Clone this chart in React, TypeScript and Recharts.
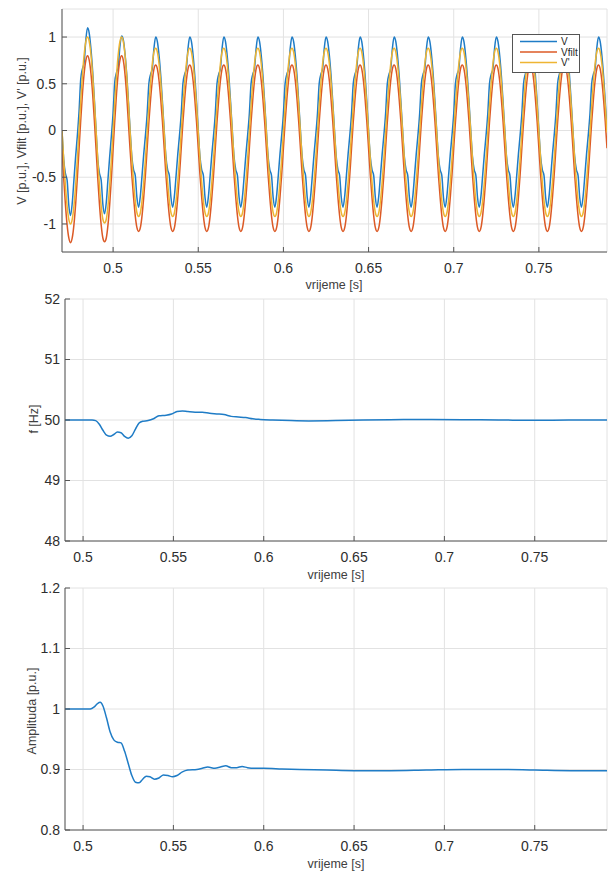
import { LineChart, Line, XAxis, YAxis, CartesianGrid } from 'recharts'

// sampling of the waveforms in the top panel (1 ms steps from 0.47 s)
const T0 = 0.47
const DT = 0.001

// V [p.u.]
const vWave = [
  0.0, -0.31, -0.46, -0.53, -0.8, -0.91, -0.78, -0.53, -0.28, -0.06,
  0.2, 0.55, 0.66, 0.73, 0.97, 1.1, 1.04, 0.87, 0.63, 0.33, 0.0, -0.31, -0.46, -0.53, -0.79, -0.89, -0.77, -0.52, -0.28, -0.06,
  0.19, 0.52, 0.62, 0.68, 0.9, 1.01, 0.97, 0.82, 0.6, 0.31, 0.0, -0.28, -0.42, -0.48, -0.72, -0.82, -0.7, -0.48, -0.25, -0.05,
  0.18, 0.5, 0.6, 0.66, 0.88, 1.0, 0.95, 0.8, 0.58, 0.3, 0.0, -0.28, -0.42, -0.48, -0.72, -0.82, -0.7, -0.48, -0.25, -0.05,
  0.18, 0.5, 0.6, 0.66, 0.88, 1.0, 0.95, 0.8, 0.58, 0.3, 0.0, -0.28, -0.42, -0.48, -0.72, -0.82, -0.7, -0.48, -0.25, -0.05,
  0.18, 0.5, 0.6, 0.66, 0.88, 1.0, 0.95, 0.8, 0.58, 0.3, 0.0, -0.28, -0.42, -0.48, -0.72, -0.82, -0.7, -0.48, -0.25, -0.05,
  0.18, 0.5, 0.6, 0.66, 0.88, 1.0, 0.95, 0.8, 0.58, 0.3, 0.0, -0.28, -0.42, -0.48, -0.72, -0.82, -0.7, -0.48, -0.25, -0.05,
  0.18, 0.5, 0.6, 0.66, 0.88, 1.0, 0.95, 0.8, 0.58, 0.3, 0.0, -0.28, -0.42, -0.48, -0.72, -0.82, -0.7, -0.48, -0.25, -0.05,
  0.18, 0.5, 0.6, 0.66, 0.88, 1.0, 0.95, 0.8, 0.58, 0.3, 0.0, -0.28, -0.42, -0.48, -0.72, -0.82, -0.7, -0.48, -0.25, -0.05,
  0.18, 0.5, 0.6, 0.66, 0.88, 1.0, 0.95, 0.8, 0.58, 0.3, 0.0, -0.28, -0.42, -0.48, -0.72, -0.82, -0.7, -0.48, -0.25, -0.05,
  0.18, 0.5, 0.6, 0.66, 0.88, 1.0, 0.95, 0.8, 0.58, 0.3, 0.0, -0.28, -0.42, -0.48, -0.72, -0.82, -0.7, -0.48, -0.25, -0.05,
  0.18, 0.5, 0.6, 0.66, 0.88, 1.0, 0.95, 0.8, 0.58, 0.3, 0.0, -0.28, -0.42, -0.48, -0.72, -0.82, -0.7, -0.48, -0.25, -0.05,
  0.18, 0.5, 0.6, 0.66, 0.88, 1.0, 0.95, 0.8, 0.58, 0.3, 0.0, -0.28, -0.42, -0.48, -0.72, -0.82, -0.7, -0.48, -0.25, -0.05,
  0.18, 0.5, 0.6, 0.66, 0.88, 1.0, 0.95, 0.8, 0.58, 0.3, 0.0, -0.28, -0.42, -0.48, -0.72, -0.82, -0.7, -0.48, -0.25, -0.05,
  0.18, 0.5, 0.6, 0.66, 0.88, 1.0, 0.95, 0.8, 0.58, 0.3, 0.0, -0.28, -0.42, -0.48, -0.72, -0.82, -0.7, -0.48, -0.25, -0.05,
  0.18, 0.5, 0.6, 0.66, 0.88, 1.0, 0.95, 0.8, 0.58, 0.3, 0.0, -0.28, -0.42, -0.48, -0.72, -0.82, -0.7, -0.48, -0.25, -0.05,
  0.18, 0.5, 0.6, 0.66, 0.88, 1.0, 0.95, 0.8, 0.58, 0.3, 0.0,
]

// Vfilt [p.u.]
const vfWave = [
  -0.2, -0.51, -0.79, -1.01, -1.15, -1.2, -1.15, -1.01, -0.79, -0.51,
  -0.2, 0.11, 0.39, 0.61, 0.75, 0.8, 0.75, 0.61, 0.39, 0.11, -0.2, -0.51, -0.79, -1.01, -1.15, -1.19, -1.15, -1.01, -0.79, -0.51,
  -0.2, 0.11, 0.39, 0.61, 0.75, 0.8, 0.75, 0.6, 0.37, 0.08, -0.21, -0.48, -0.71, -0.91, -1.04, -1.08, -1.04, -0.91, -0.71, -0.47,
  -0.19, 0.09, 0.33, 0.53, 0.66, 0.7, 0.66, 0.53, 0.33, 0.09, -0.19, -0.47, -0.71, -0.91, -1.04, -1.08, -1.04, -0.91, -0.71, -0.47,
  -0.19, 0.09, 0.33, 0.53, 0.66, 0.7, 0.66, 0.53, 0.33, 0.09, -0.19, -0.47, -0.71, -0.91, -1.04, -1.08, -1.04, -0.91, -0.71, -0.47,
  -0.19, 0.09, 0.33, 0.53, 0.66, 0.7, 0.66, 0.53, 0.33, 0.09, -0.19, -0.47, -0.71, -0.91, -1.04, -1.08, -1.04, -0.91, -0.71, -0.47,
  -0.19, 0.09, 0.33, 0.53, 0.66, 0.7, 0.66, 0.53, 0.33, 0.09, -0.19, -0.47, -0.71, -0.91, -1.04, -1.08, -1.04, -0.91, -0.71, -0.47,
  -0.19, 0.09, 0.33, 0.53, 0.66, 0.7, 0.66, 0.53, 0.33, 0.09, -0.19, -0.47, -0.71, -0.91, -1.04, -1.08, -1.04, -0.91, -0.71, -0.47,
  -0.19, 0.09, 0.33, 0.53, 0.66, 0.7, 0.66, 0.53, 0.33, 0.09, -0.19, -0.47, -0.71, -0.91, -1.04, -1.08, -1.04, -0.91, -0.71, -0.47,
  -0.19, 0.09, 0.33, 0.53, 0.66, 0.7, 0.66, 0.53, 0.33, 0.09, -0.19, -0.47, -0.71, -0.91, -1.04, -1.08, -1.04, -0.91, -0.71, -0.47,
  -0.19, 0.09, 0.33, 0.53, 0.66, 0.7, 0.66, 0.53, 0.33, 0.09, -0.19, -0.47, -0.71, -0.91, -1.04, -1.08, -1.04, -0.91, -0.71, -0.47,
  -0.19, 0.09, 0.33, 0.53, 0.66, 0.7, 0.66, 0.53, 0.33, 0.09, -0.19, -0.47, -0.71, -0.91, -1.04, -1.08, -1.04, -0.91, -0.71, -0.47,
  -0.19, 0.09, 0.33, 0.53, 0.66, 0.7, 0.66, 0.53, 0.33, 0.09, -0.19, -0.47, -0.71, -0.91, -1.04, -1.08, -1.04, -0.91, -0.71, -0.47,
  -0.19, 0.09, 0.33, 0.53, 0.66, 0.7, 0.66, 0.53, 0.33, 0.09, -0.19, -0.47, -0.71, -0.91, -1.04, -1.08, -1.04, -0.91, -0.71, -0.47,
  -0.19, 0.09, 0.33, 0.53, 0.66, 0.7, 0.66, 0.53, 0.33, 0.09, -0.19, -0.47, -0.71, -0.91, -1.04, -1.08, -1.04, -0.91, -0.71, -0.47,
  -0.19, 0.09, 0.33, 0.53, 0.66, 0.7, 0.66, 0.53, 0.33, 0.09, -0.19, -0.47, -0.71, -0.91, -1.04, -1.08, -1.04, -0.91, -0.71, -0.47,
  -0.19, 0.09, 0.33, 0.53, 0.66, 0.7, 0.66, 0.53, 0.33, 0.09, -0.19,
]

// V' [p.u.]
const vpWave = [
  0.0, -0.31, -0.59, -0.81, -0.95, -1.0, -0.95, -0.81, -0.59, -0.31,
  0.0, 0.31, 0.59, 0.81, 0.95, 1.0, 0.95, 0.81, 0.59, 0.31, 0.0, -0.31, -0.59, -0.81, -0.95, -0.99, -0.95, -0.81, -0.59, -0.31,
  0.0, 0.31, 0.59, 0.81, 0.95, 1.0, 0.95, 0.81, 0.58, 0.29, -0.02, -0.3, -0.55, -0.75, -0.88, -0.92, -0.88, -0.75, -0.55, -0.3,
  -0.02, 0.26, 0.51, 0.71, 0.84, 0.88, 0.84, 0.71, 0.51, 0.26, -0.02, -0.3, -0.55, -0.75, -0.88, -0.92, -0.88, -0.75, -0.55, -0.3,
  -0.02, 0.26, 0.51, 0.71, 0.84, 0.88, 0.84, 0.71, 0.51, 0.26, -0.02, -0.3, -0.55, -0.75, -0.88, -0.92, -0.88, -0.75, -0.55, -0.3,
  -0.02, 0.26, 0.51, 0.71, 0.84, 0.88, 0.84, 0.71, 0.51, 0.26, -0.02, -0.3, -0.55, -0.75, -0.88, -0.92, -0.88, -0.75, -0.55, -0.3,
  -0.02, 0.26, 0.51, 0.71, 0.84, 0.88, 0.84, 0.71, 0.51, 0.26, -0.02, -0.3, -0.55, -0.75, -0.88, -0.92, -0.88, -0.75, -0.55, -0.3,
  -0.02, 0.26, 0.51, 0.71, 0.84, 0.88, 0.84, 0.71, 0.51, 0.26, -0.02, -0.3, -0.55, -0.75, -0.88, -0.92, -0.88, -0.75, -0.55, -0.3,
  -0.02, 0.26, 0.51, 0.71, 0.84, 0.88, 0.84, 0.71, 0.51, 0.26, -0.02, -0.3, -0.55, -0.75, -0.88, -0.92, -0.88, -0.75, -0.55, -0.3,
  -0.02, 0.26, 0.51, 0.71, 0.84, 0.88, 0.84, 0.71, 0.51, 0.26, -0.02, -0.3, -0.55, -0.75, -0.88, -0.92, -0.88, -0.75, -0.55, -0.3,
  -0.02, 0.26, 0.51, 0.71, 0.84, 0.88, 0.84, 0.71, 0.51, 0.26, -0.02, -0.3, -0.55, -0.75, -0.88, -0.92, -0.88, -0.75, -0.55, -0.3,
  -0.02, 0.26, 0.51, 0.71, 0.84, 0.88, 0.84, 0.71, 0.51, 0.26, -0.02, -0.3, -0.55, -0.75, -0.88, -0.92, -0.88, -0.75, -0.55, -0.3,
  -0.02, 0.26, 0.51, 0.71, 0.84, 0.88, 0.84, 0.71, 0.51, 0.26, -0.02, -0.3, -0.55, -0.75, -0.88, -0.92, -0.88, -0.75, -0.55, -0.3,
  -0.02, 0.26, 0.51, 0.71, 0.84, 0.88, 0.84, 0.71, 0.51, 0.26, -0.02, -0.3, -0.55, -0.75, -0.88, -0.92, -0.88, -0.75, -0.55, -0.3,
  -0.02, 0.26, 0.51, 0.71, 0.84, 0.88, 0.84, 0.71, 0.51, 0.26, -0.02, -0.3, -0.55, -0.75, -0.88, -0.92, -0.88, -0.75, -0.55, -0.3,
  -0.02, 0.26, 0.51, 0.71, 0.84, 0.88, 0.84, 0.71, 0.51, 0.26, -0.02, -0.3, -0.55, -0.75, -0.88, -0.92, -0.88, -0.75, -0.55, -0.3,
  -0.02, 0.26, 0.51, 0.71, 0.84, 0.88, 0.84, 0.71, 0.51, 0.26, -0.02,
]

// frequency estimate f [Hz]
const fTime = [
  0.49, 0.495, 0.5, 0.505, 0.507, 0.509, 0.511, 0.513, 0.515, 0.517, 0.519, 0.521, 0.523, 0.525, 0.527, 0.529,
  0.531, 0.533, 0.536, 0.539, 0.542, 0.546, 0.549, 0.552, 0.555, 0.558, 0.562, 0.566, 0.57, 0.574, 0.578, 0.582,
  0.586, 0.59, 0.594, 0.598, 0.605, 0.615, 0.625, 0.64, 0.655, 0.67, 0.69, 0.71, 0.73, 0.75, 0.77, 0.79,
]
const fValues = [
  50.0, 50.0, 50.0, 50.0, 49.99, 49.93, 49.83, 49.75, 49.73, 49.76, 49.8, 49.79, 49.73, 49.7, 49.74, 49.85,
  49.95, 49.98, 49.99, 50.02, 50.07, 50.08, 50.1, 50.14, 50.15, 50.14, 50.13, 50.13, 50.11, 50.1, 50.09, 50.06,
  50.05, 50.04, 50.02, 50.01, 50.0, 49.99, 49.985, 49.99, 50.0, 50.005, 50.01, 50.005, 50.0, 49.995, 50.0, 50.0,
]

// amplitude estimate [p.u.]
const aTime = [
  0.49, 0.495, 0.5, 0.504, 0.506, 0.508, 0.5095, 0.511, 0.513, 0.515, 0.517, 0.519, 0.521, 0.523, 0.525, 0.527,
  0.529, 0.531, 0.533, 0.535, 0.537, 0.5395, 0.542, 0.5445, 0.547, 0.5495, 0.552, 0.555, 0.558, 0.563, 0.566, 0.569,
  0.573, 0.576, 0.579, 0.582, 0.585, 0.588, 0.591, 0.595, 0.6, 0.61, 0.62, 0.635, 0.65, 0.67, 0.69, 0.71,
  0.73, 0.75, 0.77, 0.79,
]
const aValues = [
  1.0, 1.0, 1.0, 1.0, 1.003, 1.009, 1.011, 1.005, 0.985, 0.962, 0.949, 0.945, 0.944, 0.93, 0.91, 0.89,
  0.879, 0.878, 0.884, 0.889, 0.888, 0.884, 0.886, 0.891, 0.89, 0.888, 0.89, 0.896, 0.899, 0.9, 0.902, 0.904,
  0.902, 0.904, 0.906, 0.903, 0.903, 0.905, 0.903, 0.902, 0.902, 0.901, 0.9, 0.899, 0.898, 0.898, 0.899, 0.9,
  0.9, 0.899, 0.898, 0.898,
]

const xTicks = [0.5, 0.55, 0.6, 0.65, 0.7, 0.75]
const waveTicks = [-1, -0.5, 0, 0.5, 1]
const fTicks = [48, 49, 50, 51, 52]
const aTicks = [0.8, 0.9, 1, 1.1, 1.2]

const waveData = vWave.map((v, i) => ({
  t: Math.round((T0 + i * DT) * 10000) / 10000,
  v,
  vf: vfWave[i],
  vp: vpWave[i],
}))
const fData = fTime.map((t, i) => ({ t, f: fValues[i] }))
const aData = aTime.map((t, i) => ({ t, a: aValues[i] }))

const BLUE = '#1f7cc6'
const ORANGE = '#dc5a26'
const YELLOW = '#eeb533'
const AXIS = '#555'
const TXT = '#2e2e2e'
const GRID = '#e2e2e2'
const FONT = '"Liberation Sans", Arial, sans-serif'

interface PanelProps {
  top: number
  height: number
  marginTop: number
  yWidth: number
  xHeight: number
  xDomain: [number, number]
  yDomain: [number, number]
  yTicks: number[]
  yTickMargin: number
  data: any[]
  series: { key: string; color: string }[]
}

function Panel(p: PanelProps) {
  const tickStyle = { fill: TXT, fontSize: 14, fontFamily: FONT }
  return (
    <div style={{ position: 'absolute', left: 0, top: p.top }}>
      <LineChart width={614} height={p.height} data={p.data} margin={{ top: p.marginTop, right: 7, bottom: 0, left: 0 }}>
        <CartesianGrid stroke={GRID} strokeWidth={1} />
        <XAxis dataKey="t" type="number" domain={p.xDomain} ticks={xTicks} allowDataOverflow interval={0}
          height={p.xHeight} tickSize={-5} tickMargin={16} stroke={AXIS} tick={tickStyle} />
        <XAxis xAxisId="top" orientation="top" dataKey="t" type="number" domain={p.xDomain} ticks={xTicks}
          allowDataOverflow interval={0} height={0} tickSize={-5} stroke={AXIS} tick={false} />
        <YAxis type="number" domain={p.yDomain} ticks={p.yTicks} allowDataOverflow interval={0}
          width={p.yWidth} tickSize={-5} tickMargin={p.yTickMargin} stroke={AXIS} tick={tickStyle} />
        <YAxis yAxisId="right" orientation="right" type="number" domain={p.yDomain} ticks={p.yTicks}
          allowDataOverflow interval={0} width={0} tickSize={-5} stroke={AXIS} tick={false} />
        {p.series.map(s => (
          <Line key={s.key} dataKey={s.key} type="monotone" stroke={s.color} strokeWidth={1.5}
            dot={false} activeDot={false} isAnimationActive={false} />
        ))}
      </LineChart>
    </div>
  )
}

function Label({ x, y, text, rotate }: { x: number; y: number; text: string; rotate?: boolean }) {
  return (
    <div style={{
      position: 'absolute', left: x, top: y, whiteSpace: 'nowrap', fontFamily: FONT, fontSize: 12.5,
      color: '#404040', lineHeight: 1, transform: `translate(-50%, -50%)${rotate ? ' rotate(-90deg)' : ''}`,
    }}>{text}</div>
  )
}

const legendItems = [
  { name: 'V', color: BLUE },
  { name: 'Vfilt', color: ORANGE },
  { name: "V'", color: YELLOW },
]

function WaveLegend() {
  return (
    <svg width={68} height={39} style={{ position: 'absolute', left: 512, top: 34 }}>
      <rect x={0.5} y={0.5} width={67} height={38} fill="#fff" stroke="#555" />
      {legendItems.map((it, i) => (
        <g key={it.name}>
          <line x1={8} x2={45} y1={7.5 + i * 10.5} y2={7.5 + i * 10.5} stroke={it.color} strokeWidth={1.5} />
          <text x={49} y={11 + i * 10.5} fontSize={10} fontFamily={FONT} fill="#262626">{it.name}</text>
        </g>
      ))}
    </svg>
  )
}

export default function App() {
  return (
    <div style={{ position: 'absolute', left: 0, top: 0, width: 614, height: 872, background: '#fff' }}>
      <Panel top={0} height={290} marginTop={9} yWidth={62} xHeight={38} xDomain={[0.47, 0.79]}
        yDomain={[-1.3, 1.3]} yTicks={waveTicks} yTickMargin={11} data={waveData}
        series={[{ key: 'v', color: BLUE }, { key: 'vf', color: ORANGE }, { key: 'vp', color: YELLOW }]} />
      <Panel top={290} height={290} marginTop={9} yWidth={65} xHeight={39} xDomain={[0.49, 0.79]}
        yDomain={[48, 52]} yTicks={fTicks} yTickMargin={10} data={fData} series={[{ key: 'f', color: BLUE }]} />
      <Panel top={580} height={292} marginTop={8} yWidth={65} xHeight={42} xDomain={[0.49, 0.79]}
        yDomain={[0.8, 1.2]} yTicks={aTicks} yTickMargin={10} data={aData} series={[{ key: 'a', color: BLUE }]} />

      <Label x={22} y={131} text="V [p.u.], Vfilt [p.u.], V' [p.u.]" rotate />
      <Label x={334} y={285} text="vrijeme [s]" />
      <Label x={34} y={419} text="f [Hz]" rotate />
      <Label x={336} y={575} text="vrijeme [s]" />
      <Label x={32} y={711} text="Amplituda [p.u.]" rotate />
      <Label x={336} y={864} text="vrijeme [s]" />

      <WaveLegend />
    </div>
  )
}
